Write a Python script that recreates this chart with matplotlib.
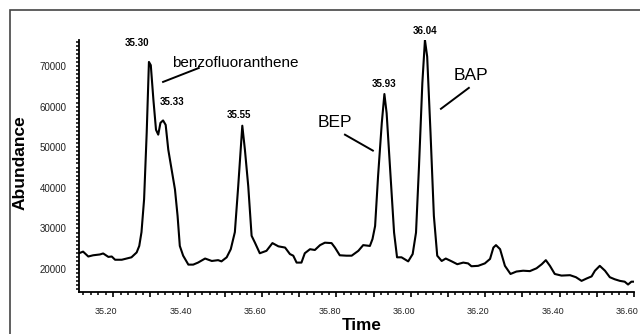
import matplotlib
matplotlib.use("Agg")
import matplotlib.pyplot as plt
import matplotlib.ticker as ticker
from matplotlib.patches import Rectangle
from matplotlib.transforms import ScaledTranslation

plt.rcParams['font.family'] = ['Liberation Sans', 'DejaVu Sans']

# retention time (min) and abundance
time = [35.108, 35.119, 35.133, 35.146, 35.164, 35.173, 35.187, 35.196, 35.205, 35.223,
        35.236, 35.249, 35.263, 35.270, 35.276, 35.283, 35.290, 35.296, 35.301, 35.308,
        35.315, 35.321, 35.327, 35.334, 35.341, 35.348, 35.357, 35.366, 35.373, 35.379,
        35.388, 35.402, 35.415, 35.428, 35.447, 35.465, 35.482, 35.491, 35.505, 35.516,
        35.527, 35.536, 35.547, 35.554, 35.563, 35.572, 35.581, 35.594, 35.612, 35.628,
        35.644, 35.662, 35.675, 35.684, 35.693, 35.706, 35.715, 35.729, 35.742, 35.756,
        35.769, 35.787, 35.796, 35.809, 35.827, 35.841, 35.859, 35.872, 35.890, 35.897,
        35.904, 35.912, 35.922, 35.929, 35.935, 35.944, 35.955, 35.963, 35.975, 35.993,
        36.005, 36.014, 36.022, 36.031, 36.038, 36.044, 36.053, 36.062, 36.071, 36.083,
        36.094, 36.110, 36.125, 36.141, 36.154, 36.163, 36.181, 36.199, 36.213, 36.222,
        36.229, 36.240, 36.253, 36.268, 36.284, 36.302, 36.320, 36.338, 36.352, 36.363,
        36.374, 36.387, 36.405, 36.428, 36.444, 36.459, 36.473, 36.486, 36.495, 36.508,
        36.522, 36.535, 36.548, 36.562, 36.575, 36.584, 36.593, 36.602]
abundance = [23900, 24300, 23100, 23400, 23600, 23850, 23000, 23100, 22300, 22300,
             22600, 22900, 24100, 25700, 29100, 37200, 53600, 71000, 70200, 61700,
             54300, 53100, 56000, 56600, 55500, 49400, 44500, 39600, 33100, 25700,
             23300, 21100, 21100, 21600, 22600, 22000, 22200, 21900, 22900, 24900,
             29100, 40400, 55300, 49400, 40400, 28200, 26500, 23900, 24500, 26400,
             25600, 25300, 23700, 23300, 21600, 21600, 23900, 24900, 24700, 25900,
             26500, 26400, 25300, 23400, 23300, 23300, 24500, 25900, 25700, 27400,
             30600, 42900, 56000, 63100, 58400, 45300, 29000, 22900, 22900, 21900,
             23700, 29000, 45300, 65800, 76400, 72300, 53500, 33100, 23300, 22000,
             22600, 21900, 21200, 21600, 21400, 20700, 20800, 21400, 22500, 25300,
             25900, 24900, 20800, 18800, 19400, 19600, 19500, 20200, 21200, 22200,
             20800, 18800, 18400, 18500, 18000, 17100, 17700, 18200, 19600, 20800,
             19600, 18000, 17500, 17100, 16900, 16200, 16900, 16900]

peak_times = ['35.30', '35.33', '35.55', '35.93', '36.04']
peak_label_pos = [(35.264, 75640), (35.358, 61180), (35.538, 58000),
                  (35.928, 65590), (36.038, 78580)]

compounds = ['benzofluoranthene', 'BEP', 'BAP']
compound_pos = [(35.527, 70740), (35.796, 56030), (36.162, 67550)]
compound_size = [11, 12.5, 12.5]
pointer_lines = [((35.334, 35.430), (66080, 69510)),
                 ((35.823, 35.898), (53090, 49170)),
                 ((36.156, 36.081), (64610, 59460))]

fig = plt.figure(figsize=(6.4, 3.34), dpi=100)
ax = fig.add_axes([79 / 640, 1 - 292 / 334, 555 / 640, 252 / 334])

ax.plot(time, abundance, color='black', lw=1.5)

ax.set_xlim(35.108, 36.60)
ax.set_ylim(14360, 76400)

for s in ['top', 'right']:
    ax.spines[s].set_visible(False)
ax.spines['left'].set_linewidth(1.3)
ax.spines['bottom'].set_linewidth(1.3)

# x ticks: tall every 0.1, small every 0.02, labels every 0.2
ax.xaxis.set_major_locator(ticker.MultipleLocator(0.1))
ax.xaxis.set_minor_locator(ticker.MultipleLocator(0.02))


def xfmt(v, pos):
    if round(v * 10) % 2 == 0:
        return '%.2f' % v
    return ''


ax.xaxis.set_major_formatter(ticker.FuncFormatter(xfmt))
ax.yaxis.set_major_locator(ticker.MultipleLocator(10000))
ax.yaxis.set_minor_locator(ticker.MultipleLocator(1000))
ax.yaxis.set_major_formatter(ticker.FormatStrFormatter('%d'))

ax.tick_params(axis='x', which='major', length=3.5, width=1.2, labelsize=6.5,
               pad=7, labelcolor='#222222')
ax.tick_params(axis='x', which='minor', length=2, width=1.1)
ax.tick_params(axis='y', which='major', length=2.5, width=1.1, labelsize=7,
               pad=6.5, labelcolor='#222222')
ax.tick_params(axis='y', which='minor', length=2, width=1.1)

shift = ScaledTranslation(-7 / 100, 0, fig.dpi_scale_trans)
for lab in ax.get_xticklabels():
    lab.set_transform(lab.get_transform() + shift)

ax.set_xlabel('Time', fontsize=12.3, fontweight='bold')
ax.xaxis.set_label_coords(0.51, -0.105)
ax.set_ylabel('Abundance', fontsize=12.5, fontweight='bold')
ax.yaxis.set_label_coords(-0.092, 0.512)

for lab, (x, y) in zip(peak_times, peak_label_pos):
    ax.text(x, y, lab, fontsize=7, fontweight='bold', ha='center', va='center',
            clip_on=False)

for name, (x, y), fs in zip(compounds, compound_pos, compound_size):
    ax.text(x, y, name, fontsize=fs, ha='center', va='center')

for xs, ys in pointer_lines:
    ax.plot(xs, ys, color='black', lw=1.4)

# outer frame
fig.patches.append(Rectangle((10 / 640, -0.2), 1.5, 1.2 - 9.5 / 334, transform=fig.transFigure,
                             fill=False, edgecolor='#444444', lw=1.2))

fig.savefig('out.png', dpi=100)
